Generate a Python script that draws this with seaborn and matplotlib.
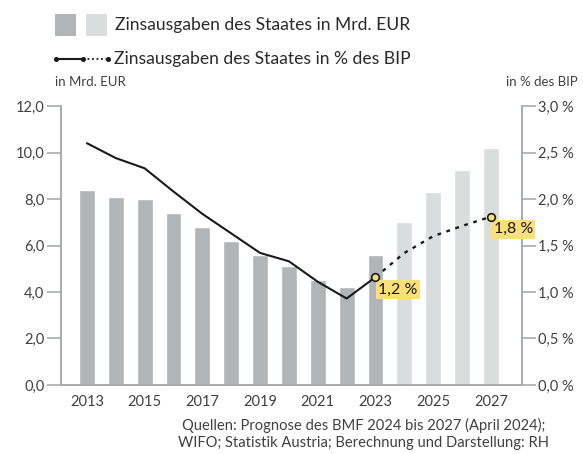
import numpy as np
import pandas as pd
import matplotlib
matplotlib.use("Agg")
import matplotlib.pyplot as plt
from matplotlib.patches import Rectangle
from matplotlib.lines import Line2D
import seaborn as sns

# Daten
jahre = list(range(2013, 2028))
mrd_eur = [8.4, 8.1, 8.0, 7.4, 6.8, 6.2, 5.6, 5.1, 4.5, 4.2, 5.6, 7.0, 8.3, 9.25, 10.2]
pct_bip = [2.60, 2.44, 2.33, 2.08, 1.84, 1.63, 1.42, 1.33, 1.11, 0.93, 1.16, 1.42, 1.60, 1.71, 1.81]
ist_bis = 2023  # ab 2024 Prognose
y_ticks_left = [0, 2, 4, 6, 8, 10, 12]
y_ticks_right = [0, 0.5, 1.0, 1.5, 2.0, 2.5, 3.0]
x_tick_jahre = [2013, 2015, 2017, 2019, 2021, 2023, 2025, 2027]

c_dunkel = "#b1b5b7"
c_hell = "#dadddd"
c_gelb = "#fbe07a"
c_achse = "#a7abae"
c_text = "#404040"

sns.set_style("white")
plt.rcParams["font.family"] = ["Lato", "DejaVu Sans"]

df = pd.DataFrame({"jahr": [str(j) for j in jahre], "mrd": mrd_eur, "pct": pct_bip,
                   "pos": np.arange(len(jahre))})
farben = [c_dunkel if j <= ist_bis else c_hell for j in jahre]

fig = plt.figure(figsize=(5.83, 4.54), dpi=100)
ax = fig.add_axes([0.1046, 0.152, 0.7904, 0.6145])

sns.barplot(data=df, x="jahr", y="mrd", hue="jahr", palette=farben, legend=False,
            width=0.55, saturation=1, ax=ax)
ax.set_xlim(-0.9, 15.07)
ax.set_ylim(0, 12)
ax.set_yticks(y_ticks_left)
ax.set_yticklabels([f"{v:.1f}".replace(".", ",") for v in y_ticks_left])
ax.set_xticks([jahre.index(j) for j in x_tick_jahre])
ax.set_xticklabels([str(j) for j in x_tick_jahre])
ax.set_xlabel("")
ax.set_ylabel("")

ax2 = ax.twinx()
ist = df[df["jahr"].astype(int) <= ist_bis]
prog = df[df["jahr"].astype(int) >= ist_bis]
sns.lineplot(x=ist["pos"], y=ist["pct"], color="#1a1a1a", lw=1.5, ax=ax2)
sns.lineplot(x=prog["pos"], y=prog["pct"], color="#1a1a1a", lw=1.7, ax=ax2,
             linestyle=(0, (1.6, 2.4)))
for j in [2023, 2027]:
    i = jahre.index(j)
    ax2.plot(i, pct_bip[i], "o", ms=5.5, mfc=c_gelb, mec="#1a1a1a", mew=1.2, zorder=5)
    ax2.annotate(f"{round(pct_bip[i], 1):.1f} %".replace(".", ","), (i, pct_bip[i]),
                 xytext=(2, -4), textcoords="offset points", ha="left", va="top",
                 fontsize=11.5, color="#1a1a1a",
                 bbox=dict(boxstyle="square,pad=0.15", fc=c_gelb, ec="none"))
ax2.set_ylim(0, 3)
ax2.set_yticks(y_ticks_right)
ax2.set_yticklabels([f"{v:.1f} %".replace(".", ",") for v in y_ticks_right])
ax2.set_ylabel("")
ax2.set_xlim(-0.9, 15.07)

for a in (ax, ax2):
    a.spines["top"].set_visible(False)
    for s in ["left", "right", "bottom"]:
        a.spines[s].set_color(c_achse)
        a.spines[s].set_linewidth(1.2)
    a.tick_params(axis="y", length=10, width=1.2, color=c_achse, labelcolor=c_text,
                  labelsize=10.5, pad=2, direction="out")
    a.tick_params(axis="x", length=0, labelcolor=c_text, labelsize=10.5, pad=7)

# Achsentitel
fig.text(55 / 583, 1 - 82 / 454, "in Mrd. EUR", fontsize=9.5, color=c_text, va="center")
fig.text(578 / 583, 1 - 82 / 454, "in % des BIP", fontsize=9.5, color=c_text,
         va="center", ha="right")

# Legende
fig.patches.append(Rectangle((55 / 583, 1 - 36 / 454), 21 / 583, 22 / 454,
                             transform=fig.transFigure, fc=c_dunkel, ec="none"))
fig.patches.append(Rectangle((86 / 583, 1 - 36 / 454), 21 / 583, 22 / 454,
                             transform=fig.transFigure, fc=c_hell, ec="none"))
fig.text(115 / 583, 1 - 25 / 454, "Zinsausgaben des Staates in Mrd. EUR", fontsize=12.6,
         color="#2a2a2a", va="center")
ly = 1 - 59 / 454
fig.lines.append(Line2D([56 / 583, 83 / 583], [ly, ly], transform=fig.transFigure,
                        color="#1a1a1a", lw=1.5))
fig.lines.append(Line2D([83 / 583, 108 / 583], [ly, ly], transform=fig.transFigure,
                        color="#1a1a1a", lw=1.3, linestyle=(0, (1, 1.5))))
fig.lines.append(Line2D([56 / 583, 83 / 583, 108 / 583], [ly, ly, ly],
                        transform=fig.transFigure, color="#1a1a1a", lw=0,
                        marker="o", ms=2.6))
fig.text(114 / 583, ly, "Zinsausgaben des Staates in % des BIP", fontsize=12.6,
         color="#2a2a2a", va="center")

# Quelle
fig.text(364 / 583, 1 - 434 / 454,
         "Quellen: Prognose des BMF 2024 bis 2027 (April 2024);\n"
         "WIFO; Statistik Austria; Berechnung und Darstellung: RH",
         fontsize=10.6, color=c_text, ha="center", va="center", linespacing=1.2)

fig.savefig("out.png", dpi=100)
